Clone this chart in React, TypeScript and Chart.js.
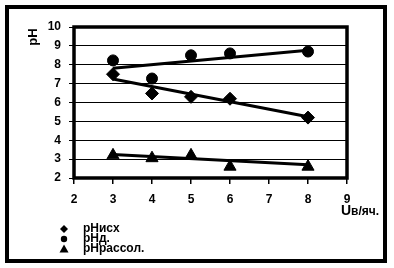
import React, { useEffect, useRef } from "react";
import { Chart, registerables } from "chart.js";

Chart.register(...registerables);

const xValues = [3, 4, 5, 6, 8];
const phIsh = [7.5, 6.48, 6.3, 6.2, 5.2];
const phD = [8.23, 7.27, 8.5, 8.6, 8.7];
const phRassol = [3.2, 3.05, 3.2, 2.6, 2.6];

const trendX = [3, 8];
const trendIsh = [7.25, 5.25];
const trendD = [7.82, 8.77];
const trendRassol = [3.25, 2.7];

const seriesLabels = ["pHисх", "pHд.", "pHрассол."];
const yTitle = "pH";
const xTitleMain = "U";
const xTitleUnit = "в/яч.";

const FONT = "'Liberation Sans', Arial, sans-serif";

const toPts = (xs: number[], ys: number[]) => xs.map((x, i) => ({ x, y: ys[i] }));

function drawMarker(ctx: CanvasRenderingContext2D, style: string, x: number, y: number, r: number) {
  ctx.beginPath();
  if (style === "rectRot") {
    ctx.moveTo(x, y - r);
    ctx.lineTo(x + r, y);
    ctx.lineTo(x, y + r);
    ctx.lineTo(x - r, y);
    ctx.closePath();
  } else if (style === "circle") {
    ctx.arc(x, y, r, 0, Math.PI * 2);
  } else {
    ctx.moveTo(x, y - r);
    ctx.lineTo(x + r, y + r * 0.8);
    ctx.lineTo(x - r, y + r * 0.8);
    ctx.closePath();
  }
  ctx.fill();
}

const decorPlugin = {
  id: "decor",
  beforeDraw(chart: any) {
    const ctx = chart.ctx;
    ctx.save();
    ctx.fillStyle = "#fff";
    ctx.fillRect(0, 0, chart.width, chart.height);
    ctx.restore();
  },
  afterDraw(chart: any) {
    const ctx = chart.ctx;
    const a = chart.chartArea;
    ctx.save();
    ctx.strokeStyle = "#000";
    // outer frame
    ctx.lineWidth = 4;
    ctx.strokeRect(7, 7, 378, 254);
    // plot frame
    ctx.lineWidth = 3.5;
    ctx.strokeRect(a.left, a.top, a.right - a.left, a.bottom - a.top);
    // y title
    ctx.fillStyle = "#000";
    ctx.save();
    ctx.translate(33, 37);
    ctx.rotate(-Math.PI / 2);
    ctx.font = `bold 13px ${FONT}`;
    ctx.textAlign = "center";
    ctx.textBaseline = "middle";
    ctx.fillText(yTitle, 0, 0);
    ctx.restore();
    // x title
    ctx.textBaseline = "alphabetic";
    ctx.textAlign = "left";
    ctx.font = `bold 14px ${FONT}`;
    ctx.fillText(xTitleMain, 341, 215);
    ctx.font = `bold 12px ${FONT}`;
    ctx.fillText(xTitleUnit, 351, 215);
    // legend
    const styles = ["rectRot", "circle", "triangle"];
    const sizes = [4, 3.2, 4.5];
    ctx.font = `bold 12px ${FONT}`;
    ctx.textBaseline = "middle";
    seriesLabels.forEach((lab, i) => {
      const y = 229 + i * 10;
      drawMarker(ctx, styles[i], 64, y, sizes[i]);
      ctx.fillText(lab, 83, y);
    });
    ctx.restore();
  },
};

export default function App() {
  const ref = useRef<HTMLCanvasElement>(null);
  useEffect(() => {
    if (!ref.current) return;
    const trendStyle = {
      showLine: true,
      borderColor: "#000",
      borderWidth: 3,
      pointRadius: 0,
      fill: false,
    };
    const chart = new Chart(ref.current, {
      type: "scatter",
      data: {
        datasets: [
          { label: "t1", data: toPts(trendX, trendIsh), ...trendStyle },
          { label: "t2", data: toPts(trendX, trendD), ...trendStyle },
          { label: "t3", data: toPts(trendX, trendRassol), ...trendStyle },
          {
            label: seriesLabels[0],
            data: toPts(xValues, phIsh),
            pointStyle: "rectRot",
            pointRadius: 6.5,
            backgroundColor: "#000",
            borderColor: "#000",
          },
          {
            label: seriesLabels[1],
            data: toPts(xValues, phD),
            pointStyle: "circle",
            pointRadius: 5.5,
            backgroundColor: "#000",
            borderColor: "#000",
          },
          {
            label: seriesLabels[2],
            data: toPts(xValues, phRassol),
            pointStyle: "triangle",
            pointRadius: 7,
            backgroundColor: "#000",
            borderColor: "#000",
          },
        ],
      },
      options: {
        animation: false,
        responsive: false,
        devicePixelRatio: 1,
        layout: { padding: { left: 0, top: 27, right: 47, bottom: 0 } },
        plugins: { legend: { display: false }, tooltip: { enabled: false } },
        scales: {
          x: {
            type: "linear",
            min: 2,
            max: 9,
            afterFit: (s: any) => {
              s.height = 90;
            },
            ticks: {
              stepSize: 1,
              color: "#000",
              font: { family: FONT, size: 12, weight: "bold" },
              padding: 8,
              maxRotation: 0,
            },
            grid: { drawOnChartArea: false, drawTicks: true, tickLength: 6, color: "#000", lineWidth: 1.5 },
            border: { display: false },
          },
          y: {
            type: "linear",
            min: 2,
            max: 10,
            afterFit: (s: any) => {
              s.width = 74;
            },
            ticks: {
              stepSize: 1,
              color: "#000",
              font: { family: FONT, size: 12, weight: "bold" },
              padding: 8,
            },
            grid: { color: "#000", lineWidth: 1, tickLength: 5 },
            border: { display: false },
          },
        },
      },
      plugins: [decorPlugin],
    } as any);
    return () => chart.destroy();
  }, []);
  return (
    <div style={{ position: "absolute", left: 0, top: 0, width: 394, height: 268, background: "#fff" }}>
      <canvas ref={ref} width={394} height={268} style={{ display: "block" }} />
    </div>
  );
}
